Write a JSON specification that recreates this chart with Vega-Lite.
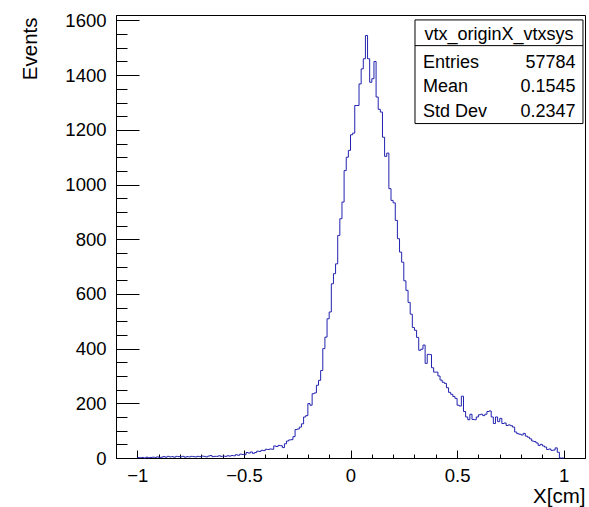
{
  "$schema": "https://vega.github.io/schema/vega-lite/v6.json",
  "width": 469,
  "height": 443,
  "autosize": {"type": "none"},
  "padding": {"left": 116, "top": 15, "right": 4, "bottom": 49},
  "background": "white",
  "config": {
    "view": {"stroke": "#000", "strokeWidth": 1},
    "axis": {
      "grid": false,
      "domainColor": "#000",
      "domainWidth": 1,
      "tickColor": "#000",
      "tickWidth": 1,
      "labelFont": "Liberation Sans",
      "titleFont": "Liberation Sans",
      "labelColor": "#000",
      "titleColor": "#000",
      "labelFontSize": 18.5,
      "titleFontSize": 20.5,
      "titleFontWeight": "normal",
      "labelFlush": false,
      "labelOverlap": false
    },
    "text": {"font": "Liberation Sans"}
  },
  "datasets": {
    "hist": [
      {"x": -1.00, "n": 2}, {"x": -0.99, "n": 1}, {"x": -0.98, "n": 2}, {"x": -0.97, "n": 0}, {"x": -0.96, "n": 3},
      {"x": -0.95, "n": 1}, {"x": -0.94, "n": 2}, {"x": -0.93, "n": 3}, {"x": -0.92, "n": 2}, {"x": -0.91, "n": 4},
      {"x": -0.90, "n": 2}, {"x": -0.89, "n": 3}, {"x": -0.88, "n": 5}, {"x": -0.87, "n": 3}, {"x": -0.86, "n": 6},
      {"x": -0.85, "n": 4}, {"x": -0.84, "n": 5}, {"x": -0.83, "n": 3}, {"x": -0.82, "n": 6}, {"x": -0.81, "n": 5},
      {"x": -0.80, "n": 4}, {"x": -0.79, "n": 6}, {"x": -0.78, "n": 3}, {"x": -0.77, "n": 5}, {"x": -0.76, "n": 4},
      {"x": -0.75, "n": 6}, {"x": -0.74, "n": 5}, {"x": -0.73, "n": 4}, {"x": -0.72, "n": 6}, {"x": -0.71, "n": 5},
      {"x": -0.70, "n": 7}, {"x": -0.69, "n": 6}, {"x": -0.68, "n": 4}, {"x": -0.67, "n": 7}, {"x": -0.66, "n": 9},
      {"x": -0.65, "n": 5}, {"x": -0.64, "n": 6}, {"x": -0.63, "n": 6}, {"x": -0.62, "n": 8}, {"x": -0.61, "n": 6},
      {"x": -0.60, "n": 7}, {"x": -0.59, "n": 6}, {"x": -0.58, "n": 8}, {"x": -0.57, "n": 7}, {"x": -0.56, "n": 9},
      {"x": -0.55, "n": 8}, {"x": -0.54, "n": 12}, {"x": -0.53, "n": 10}, {"x": -0.52, "n": 14}, {"x": -0.51, "n": 13},
      {"x": -0.50, "n": 12}, {"x": -0.49, "n": 20}, {"x": -0.48, "n": 18}, {"x": -0.47, "n": 22}, {"x": -0.46, "n": 17},
      {"x": -0.45, "n": 20}, {"x": -0.44, "n": 25}, {"x": -0.43, "n": 24}, {"x": -0.42, "n": 28}, {"x": -0.41, "n": 27},
      {"x": -0.40, "n": 32}, {"x": -0.39, "n": 31}, {"x": -0.38, "n": 33}, {"x": -0.37, "n": 32}, {"x": -0.36, "n": 44},
      {"x": -0.35, "n": 42}, {"x": -0.34, "n": 46}, {"x": -0.33, "n": 45}, {"x": -0.32, "n": 38}, {"x": -0.31, "n": 52},
      {"x": -0.30, "n": 62}, {"x": -0.29, "n": 66}, {"x": -0.28, "n": 67}, {"x": -0.27, "n": 78}, {"x": -0.26, "n": 104},
      {"x": -0.25, "n": 106}, {"x": -0.24, "n": 113}, {"x": -0.23, "n": 125}, {"x": -0.22, "n": 150}, {"x": -0.21, "n": 155},
      {"x": -0.20, "n": 199}, {"x": -0.19, "n": 193}, {"x": -0.18, "n": 235}, {"x": -0.17, "n": 238}, {"x": -0.16, "n": 266},
      {"x": -0.15, "n": 284}, {"x": -0.14, "n": 320}, {"x": -0.13, "n": 400}, {"x": -0.12, "n": 442}, {"x": -0.11, "n": 509},
      {"x": -0.10, "n": 534}, {"x": -0.09, "n": 637}, {"x": -0.08, "n": 674}, {"x": -0.07, "n": 710}, {"x": -0.06, "n": 814},
      {"x": -0.05, "n": 875}, {"x": -0.04, "n": 936}, {"x": -0.03, "n": 1051}, {"x": -0.02, "n": 1100}, {"x": -0.01, "n": 1125},
      {"x": 0.00, "n": 1182}, {"x": 0.01, "n": 1188}, {"x": 0.02, "n": 1289}, {"x": 0.03, "n": 1289}, {"x": 0.04, "n": 1368},
      {"x": 0.05, "n": 1423}, {"x": 0.06, "n": 1460}, {"x": 0.07, "n": 1545}, {"x": 0.08, "n": 1460}, {"x": 0.09, "n": 1374},
      {"x": 0.10, "n": 1387}, {"x": 0.11, "n": 1450}, {"x": 0.12, "n": 1320}, {"x": 0.13, "n": 1275}, {"x": 0.14, "n": 1265},
      {"x": 0.15, "n": 1173}, {"x": 0.16, "n": 1103}, {"x": 0.17, "n": 1115}, {"x": 0.18, "n": 985}, {"x": 0.19, "n": 942},
      {"x": 0.20, "n": 933}, {"x": 0.21, "n": 869}, {"x": 0.22, "n": 802}, {"x": 0.23, "n": 753}, {"x": 0.24, "n": 716},
      {"x": 0.25, "n": 648}, {"x": 0.26, "n": 613}, {"x": 0.27, "n": 569}, {"x": 0.28, "n": 526}, {"x": 0.29, "n": 477},
      {"x": 0.30, "n": 467}, {"x": 0.31, "n": 441}, {"x": 0.32, "n": 394}, {"x": 0.33, "n": 398}, {"x": 0.34, "n": 413},
      {"x": 0.35, "n": 346}, {"x": 0.36, "n": 379}, {"x": 0.37, "n": 378}, {"x": 0.38, "n": 330}, {"x": 0.39, "n": 314},
      {"x": 0.40, "n": 314}, {"x": 0.41, "n": 300}, {"x": 0.42, "n": 285}, {"x": 0.43, "n": 277}, {"x": 0.44, "n": 273},
      {"x": 0.45, "n": 257}, {"x": 0.46, "n": 240}, {"x": 0.47, "n": 233}, {"x": 0.48, "n": 225}, {"x": 0.49, "n": 218},
      {"x": 0.50, "n": 193}, {"x": 0.51, "n": 190}, {"x": 0.52, "n": 226}, {"x": 0.53, "n": 170}, {"x": 0.54, "n": 150},
      {"x": 0.55, "n": 140}, {"x": 0.56, "n": 160}, {"x": 0.57, "n": 141}, {"x": 0.58, "n": 140}, {"x": 0.59, "n": 150},
      {"x": 0.60, "n": 158}, {"x": 0.61, "n": 160}, {"x": 0.62, "n": 155}, {"x": 0.63, "n": 160}, {"x": 0.64, "n": 170},
      {"x": 0.65, "n": 172}, {"x": 0.66, "n": 150}, {"x": 0.67, "n": 126}, {"x": 0.68, "n": 150}, {"x": 0.69, "n": 133},
      {"x": 0.70, "n": 145}, {"x": 0.71, "n": 126}, {"x": 0.72, "n": 128}, {"x": 0.73, "n": 119}, {"x": 0.74, "n": 121},
      {"x": 0.75, "n": 118}, {"x": 0.76, "n": 113}, {"x": 0.77, "n": 95}, {"x": 0.78, "n": 89}, {"x": 0.79, "n": 87},
      {"x": 0.80, "n": 84}, {"x": 0.81, "n": 90}, {"x": 0.82, "n": 80}, {"x": 0.83, "n": 76}, {"x": 0.84, "n": 70},
      {"x": 0.85, "n": 62}, {"x": 0.86, "n": 60}, {"x": 0.87, "n": 55}, {"x": 0.88, "n": 46}, {"x": 0.89, "n": 50},
      {"x": 0.90, "n": 44}, {"x": 0.91, "n": 40}, {"x": 0.92, "n": 31}, {"x": 0.93, "n": 33}, {"x": 0.94, "n": 28},
      {"x": 0.95, "n": 29}, {"x": 0.96, "n": 37}, {"x": 0.97, "n": 21}, {"x": 0.98, "n": 0}, {"x": 0.99, "n": 0},
      {"x": 1.00, "n": 0}
    ],
    "box": [{"x1": 0.3025, "x2": 1.0905, "y1": 1223, "y2": 1602, "ysep": 1508}],
    "stats": [
      {"name": "Entries", "value": "57784", "y": 1446},
      {"name": "Mean", "value": "0.1545", "y": 1357},
      {"name": "Std Dev", "value": "0.2347", "y": 1266}
    ],
    "title": [{"text": "vtx_originX_vtxsys", "x": 0.6965, "y": 1548}]
  },
  "layer": [
    {
      "data": {"name": "hist"},
      "mark": {"type": "line", "interpolate": "step-after", "strokeOpacity": 0},
      "encoding": {
        "x": {"field": "x", "type": "quantitative",
              "scale": {"domain": [-1.1, 1.1], "nice": false, "zero": false},
              "axis": {"orient": "bottom", "values": [-1.1, -1, -0.9, -0.8, -0.7, -0.6, -0.5, -0.4, -0.3, -0.2, -0.1, 0, 0.1, 0.2, 0.3, 0.4, 0.5, 0.6, 0.7, 0.8, 0.9, 1, 1.1],
                       "labels": false, "domain": false, "title": null, "tickSize": -4}},
        "y": {"field": "n", "type": "quantitative",
              "scale": {"domain": [0, 1620], "nice": false, "zero": false},
              "axis": {"orient": "left", "values": [50, 100, 150, 250, 300, 350, 450, 500, 550, 650, 700, 750, 850, 900, 950, 1050, 1100, 1150, 1250, 1300, 1350, 1450, 1500, 1550],
                       "labels": false, "domain": false, "title": null, "tickSize": -11}}
      }
    },
    {
      "data": {"name": "hist"},
      "mark": {"type": "line", "interpolate": "step-after", "stroke": "#2222b0", "strokeWidth": 1},
      "encoding": {
        "x": {"field": "x", "type": "quantitative",
              "axis": {"orient": "bottom", "values": [-1, -0.5, 0, 0.5, 1], "format": "~g",
                       "tickSize": -8, "labelPadding": 16,
                       "title": "X[cm]", "titleAnchor": "end", "titleAlign": "right", "titleX": 469, "titleY": 38, "titleBaseline": "middle"}},
        "y": {"field": "n", "type": "quantitative",
              "axis": {"orient": "left", "values": [0, 200, 400, 600, 800, 1000, 1200, 1400, 1600], "format": "d",
                       "tickSize": -23, "labelPadding": 33,
                       "title": "Events", "titleAngle": -90, "titleAlign": "right", "titleBaseline": "middle", "titleX": -86, "titleY": 2}}
      }
    },
    {
      "data": {"name": "box"},
      "mark": {"type": "rect", "fill": "white", "stroke": "#000", "strokeWidth": 1},
      "encoding": {
        "x": {"field": "x1", "type": "quantitative", "axis": null},
        "x2": {"field": "x2"},
        "y": {"field": "y1", "type": "quantitative", "axis": null},
        "y2": {"field": "y2"}
      }
    },
    {
      "data": {"name": "box"},
      "mark": {"type": "rule", "stroke": "#000", "strokeWidth": 1},
      "encoding": {
        "x": {"field": "x1", "type": "quantitative", "axis": null},
        "x2": {"field": "x2"},
        "y": {"field": "ysep", "type": "quantitative", "axis": null}
      }
    },
    {
      "data": {"name": "title"},
      "mark": {"type": "text", "align": "center", "baseline": "middle", "fontSize": 18, "color": "#000"},
      "encoding": {
        "x": {"field": "x", "type": "quantitative", "axis": null},
        "y": {"field": "y", "type": "quantitative", "axis": null},
        "text": {"field": "text"}
      }
    },
    {
      "data": {"name": "stats"},
      "mark": {"type": "text", "align": "left", "baseline": "middle", "fontSize": 18, "color": "#000", "x": {"expr": "scale('x', 0.340)"}},
      "encoding": {
        "y": {"field": "y", "type": "quantitative", "axis": null},
        "text": {"field": "name"}
      }
    },
    {
      "data": {"name": "stats"},
      "mark": {"type": "text", "align": "right", "baseline": "middle", "fontSize": 18, "color": "#000", "x": {"expr": "scale('x', 1.056)"}},
      "encoding": {
        "y": {"field": "y", "type": "quantitative", "axis": null},
        "text": {"field": "value"}
      }
    }
  ],
  "resolve": {"axis": {"x": "independent", "y": "independent"}}
}
